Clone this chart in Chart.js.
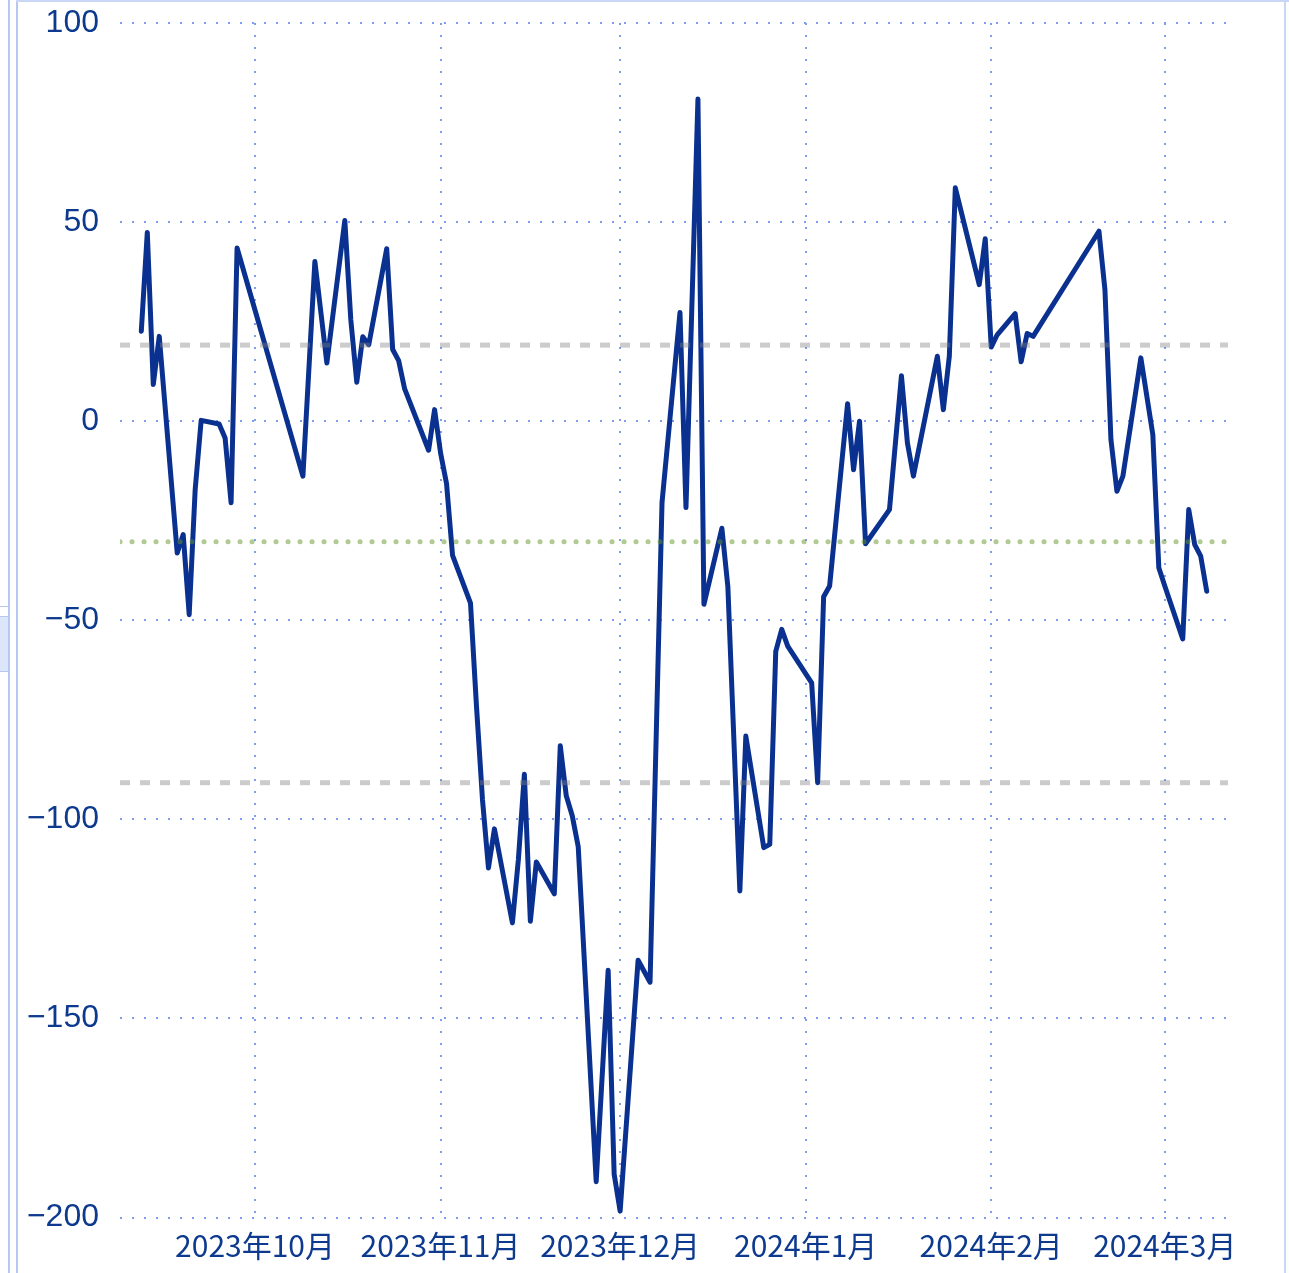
<!DOCTYPE html>
<html><head><meta charset="utf-8">
<script src="https://cdn.jsdelivr.net/npm/chart.js@4.4.1/dist/chart.umd.min.js"></script>
<style>
html,body{margin:0;padding:0;background:#fff;overflow:hidden;}
#wrap{position:absolute;left:0;top:0;width:1289px;height:1273px;}
canvas{position:absolute;left:0;top:0;}
.deco{position:absolute;background:#b7c8f0;}
</style></head><body>
<div id="wrap"><canvas id="c" width="1289" height="1273"></canvas>
<div class="deco" style="left:8px;top:0;width:2px;height:1273px;"></div>
<div class="deco" style="left:16px;top:0;width:2px;height:1273px;"></div>
<div class="deco" style="left:16px;top:0;width:1273px;height:2px;background:#c9d6f6;"></div>
<div class="deco" style="left:1284px;top:0;width:2px;height:1273px;background:#c9d6f6;"></div>
<div class="deco" style="left:0;top:606px;width:10px;height:1px;"></div>
<div class="deco" style="left:0;top:616px;width:8px;height:54px;background:#dde5fb;border-top:1px solid #b7c8f0;border-bottom:1px solid #b7c8f0;"></div>
</div>
<script>
// ---- data ----
const dates = [
 '2023-09-12','2023-09-13','2023-09-14','2023-09-15','2023-09-18','2023-09-19','2023-09-20','2023-09-21','2023-09-22','2023-09-25','2023-09-26','2023-09-27','2023-09-28',
 '2023-10-09','2023-10-11','2023-10-13','2023-10-16','2023-10-17','2023-10-18','2023-10-19','2023-10-20','2023-10-23','2023-10-24','2023-10-25','2023-10-26','2023-10-30','2023-10-31',
 '2023-11-01','2023-11-02','2023-11-03','2023-11-06','2023-11-07','2023-11-08','2023-11-09','2023-11-10','2023-11-13','2023-11-14','2023-11-15','2023-11-16','2023-11-17','2023-11-20','2023-11-21','2023-11-22','2023-11-23','2023-11-24','2023-11-27','2023-11-29','2023-11-30',
 '2023-12-01','2023-12-04','2023-12-06','2023-12-08','2023-12-11','2023-12-12','2023-12-14','2023-12-15','2023-12-18','2023-12-19','2023-12-21','2023-12-22','2023-12-25','2023-12-26','2023-12-27','2023-12-28','2023-12-29',
 '2024-01-02','2024-01-03','2024-01-04','2024-01-05','2024-01-08','2024-01-09','2024-01-10','2024-01-11','2024-01-15','2024-01-17','2024-01-18','2024-01-19','2024-01-23','2024-01-24','2024-01-25','2024-01-26','2024-01-30','2024-01-31',
 '2024-02-01','2024-02-02','2024-02-05','2024-02-06','2024-02-07','2024-02-08','2024-02-19','2024-02-20','2024-02-21','2024-02-22','2024-02-23','2024-02-26','2024-02-28','2024-02-29',
 '2024-03-01','2024-03-04','2024-03-05','2024-03-06','2024-03-07','2024-03-08'
];
const values = [
 22.6,47.4,9.2,21.3,-33.1,-28.5,-48.6,-17.2,0.2,-0.7,-4.2,-20.5,43.5,
 -13.8,40.1,14.6,50.4,25.5,9.8,21.2,19.2,43.3,18.0,15.2,8.1,-7.3,2.9,
 -8.0,-15.7,-33.7,-45.7,-71.6,-95.0,-112.2,-102.4,-126.0,-110.1,-88.7,-125.6,-110.7,-118.7,-81.5,-94.1,-99.1,-106.9,-191.0,-137.9,-189.1,
 -198.4,-135.4,-140.9,-20.4,27.3,-21.7,80.9,-46.0,-26.9,-41.6,-118.0,-79.1,-107.1,-106.3,-57.8,-52.3,-56.5,
 -65.7,-90.8,-44.1,-41.4,4.4,-12.2,0.0,-30.8,-22.2,11.4,-5.5,-13.8,16.3,2.9,16.3,58.6,34.3,45.8,
 18.6,21.7,27.0,14.9,22.0,21.3,47.7,33.0,-4.6,-17.6,-13.8,15.9,-3.4,-36.8,
 -41.4,-54.7,-22.2,-31.0,-33.9,-42.7
];
const monthTickDates = ['2023-10-01','2023-11-01','2023-12-01','2024-01-01','2024-02-01','2024-03-01'];
const monthTickLabels = ['2023年10月','2023年11月','2023年12月','2024年1月','2024年2月','2024年3月'];
const upperBand = 19.1;
const midLine = -30.3;
const lowerBand = -90.8;
const yTicks = [-200,-150,-100,-50,0,50,100];

// ---- helpers ----
const DAY = 86400000;
const base = Date.UTC(2023, 9, 1);
function toDay(s){ const p = s.split('-').map(Number); return (Date.UTC(p[0], p[1]-1, p[2]) - base) / DAY; }
const xs = dates.map(toDay);
const dMin = Math.min(...xs), dMax = Math.max(...xs);
const pad = (dMax - dMin) * 0.02;
const xMin = dMin - pad, xMax = dMax + pad;
const tickDays = monthTickDates.map(toDay);

const mainData = xs.map((x, i) => ({x, y: values[i]}));
const hline = v => [{x: xMin, y: v}, {x: xMax, y: v}];

const textColor = '#0d3a8e';
const gridColor = '#7f9df2';

new Chart(document.getElementById('c'), {
  type: 'line',
  data: {
    datasets: [
      {data: hline(upperBand), borderColor: 'rgba(128,128,128,0.4)', borderWidth: 5, borderDash: [10,10], pointRadius: 0, order: 0},
      {data: hline(lowerBand), borderColor: 'rgba(128,128,128,0.4)', borderWidth: 5, borderDash: [10,10], pointRadius: 0, order: 0},
      {data: hline(midLine), borderColor: 'rgba(100,150,40,0.5)', borderWidth: 5, borderDash: [0.1,11.9], borderCapStyle: 'round', pointRadius: 0, order: 0},
      {data: mainData, borderColor: '#0a318f', borderWidth: 5, pointRadius: 0, tension: 0, borderJoinStyle: 'round', borderCapStyle: 'round', order: 1}
    ]
  },
  options: {
    responsive: false,
    animation: false,
    devicePixelRatio: 1,
    layout: {padding: {top: 23, right: 61, bottom: 0, left: 0}},
    plugins: {legend: {display: false}, tooltip: {enabled: false}},
    scales: {
      x: {
        type: 'linear',
        min: xMin, max: xMax,
        afterBuildTicks: s => { s.ticks = tickDays.map(v => ({value: v})); },
        afterFit: s => { s.height = 55.5; s.paddingLeft = 0; s.paddingRight = 0; },
        border: {display: false, dash: [2,10]},
        grid: {color: gridColor, lineWidth: 2, drawTicks: false},
        ticks: {
          autoSkip: false, maxRotation: 0, padding: 10, color: textColor,
          font: {family: "'Noto Sans CJK SC'", size: 30},
          callback: (v) => { const i = tickDays.indexOf(v); return i >= 0 ? monthTickLabels[i] : ''; }
        }
      },
      y: {
        min: -200, max: 100,
        afterBuildTicks: s => { s.ticks = yTicks.map(v => ({value: v})); },
        afterFit: s => { s.width = 120; s.paddingTop = 0; s.paddingBottom = 0; },
        border: {display: false, dash: [2,10]},
        grid: {color: gridColor, lineWidth: 2, drawTicks: false},
        ticks: {
          padding: 21, color: textColor,
          font: {family: "'Liberation Sans'", size: 32},
          callback: v => v < 0 ? '\u2212' + Math.abs(v) : String(v)
        }
      }
    }
  }
});
</script>
</body></html>
